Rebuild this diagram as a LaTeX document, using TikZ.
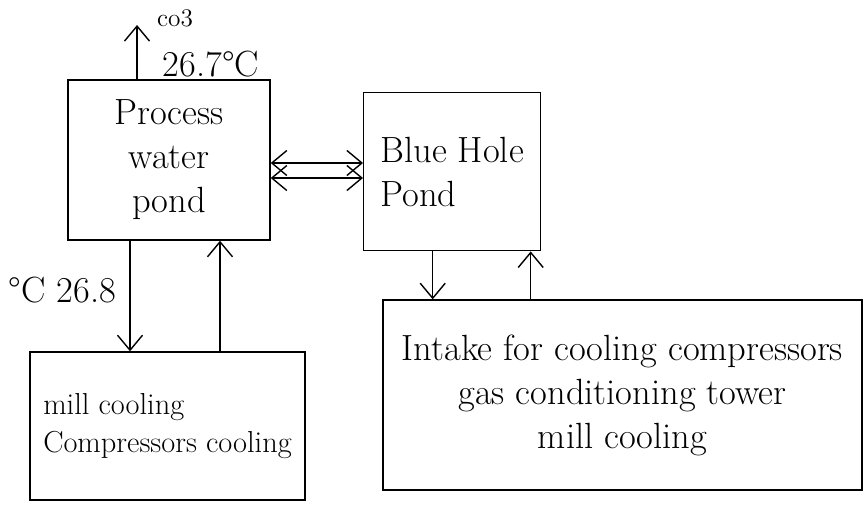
\documentclass[tikz,border=0pt]{standalone}
\usetikzlibrary{arrows.meta}
\tikzset{pond/.style={draw, thick, align=center, font=\huge},
  flow/.style={draw, thick, -{Straight Barb[length=3mm,width=5mm]}},
  twoway/.style={draw, thick, {Straight Barb[length=3mm,width=5mm]}-{Straight Barb[length=3mm,width=5mm]}}}
\begin{document}
\begin{tikzpicture}
\useasboundingbox (0,0) rectangle (17.32,10.12);
\node[pond, minimum width=4.04cm, minimum height=3.2cm] (process) at (3.38,6.92) {Process\\water\\pond};
\node[pond, minimum width=3.54cm, minimum height=3.16cm, anchor=north west, align=left] (blue) at (7.26,8.28) {Blue Hole\\Pond};
\node[pond, minimum width=5.5cm, minimum height=2.96cm, align=left, font=\LARGE] (mill) at (3.35,1.6) {mill cooling\\Compressors cooling};
\node[pond, minimum width=9.58cm, minimum height=3.8cm] (intake) at (12.45,2.22) {Intake for cooling compressors\\gas conditioning tower\\mill cooling};
\coordinate (vent) at (2.74,9.62);
\node[font=\Large] (vlabel) at (3.5,9.75) {co3};
\node[font=\huge] (ttop) at (4.22,8.84) {26.7\textdegree C};
\node[font=\huge] (tbot) at (1.25,4.32) {\textdegree C 26.8};
\coordinate (p1) at ([yshift=-0.06cm]process.east);
\coordinate (p2) at ([yshift=-0.36cm]process.east);
\coordinate (m1) at ([xshift=-0.78cm]process.south);
\coordinate (m2) at ([xshift=1.02cm]process.south);
\coordinate (b1) at ([xshift=-0.39cm]blue.south);
\coordinate (b2) at ([xshift=1.57cm]blue.south);
\path[flow] (vent |- process.north) -- (vent);
\path[twoway] (p1) -- (p1 -| blue.west);
\path[twoway] (p2) -- (p2 -| blue.west);
\path[flow] (m1) -- (m1 |- mill.north);
\path[flow] (m2 |- mill.north) -- (m2);
\path[flow] (b1) -- (b1 |- intake.north);
\path[flow] (b2 |- intake.north) -- (b2);
\end{tikzpicture}
\end{document}
